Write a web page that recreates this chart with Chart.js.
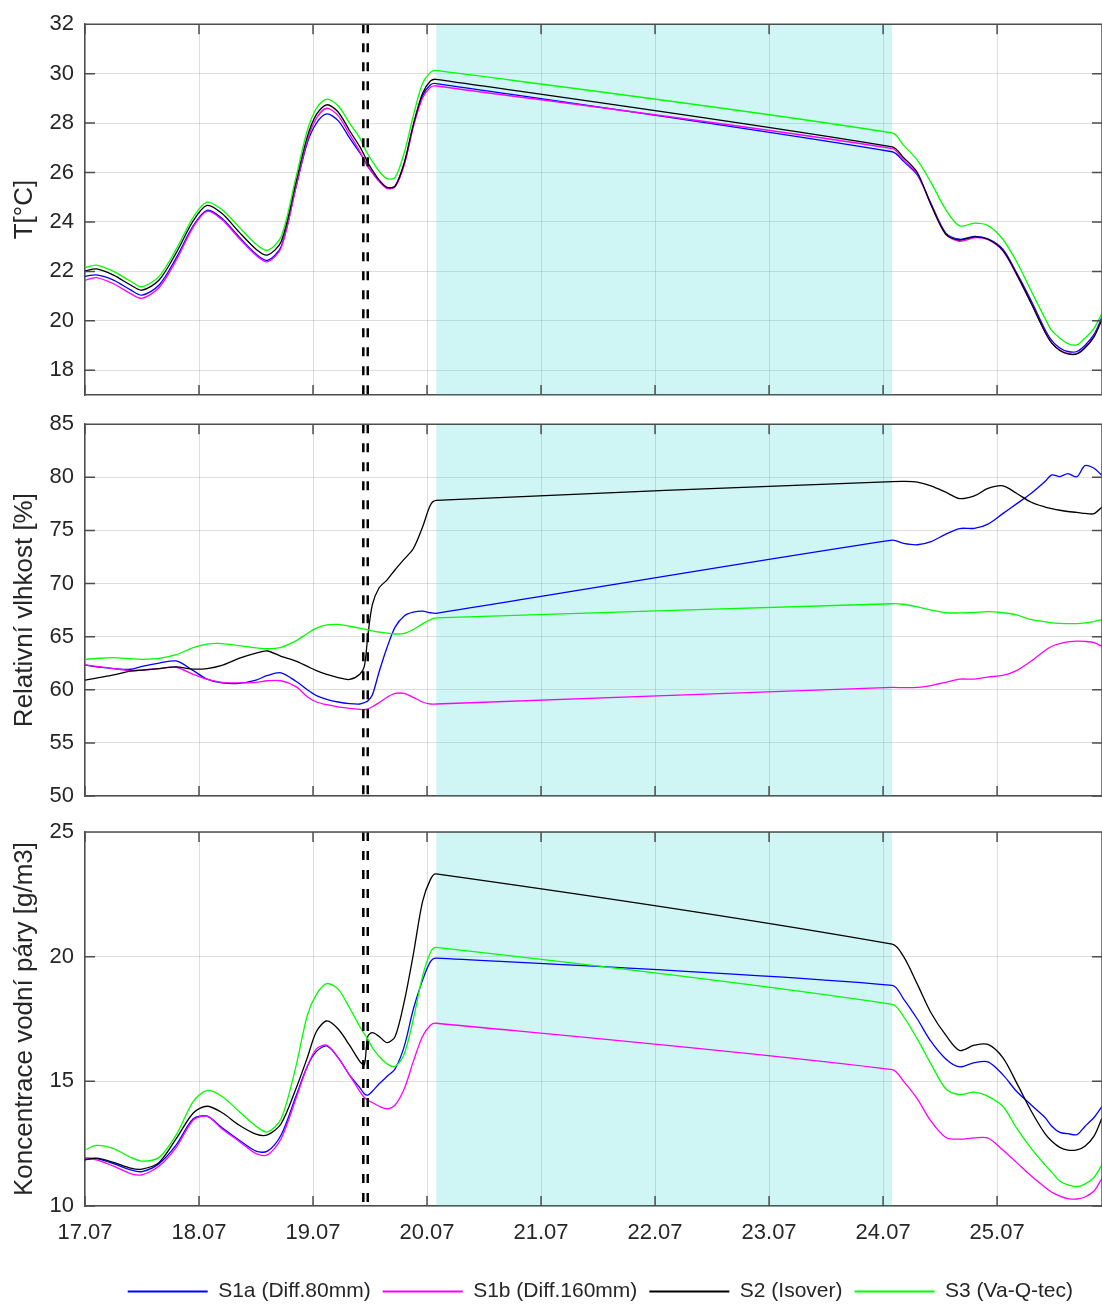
<!DOCTYPE html>
<html>
<head>
<meta charset="utf-8">
<title>S1a / S1b / S2 / S3 - T, RH, vodni para</title>
<script src="https://cdn.jsdelivr.net/npm/chart.js@4.4.0/dist/chart.umd.min.js"></script>
<style>
  html, body { margin: 0; padding: 0; background: #fff; }
  body { width: 1102px; height: 1304px; overflow: hidden; position: relative; }
  .panel { position: absolute; left: 0; width: 1102px; }
</style>
</head>
<body>
<div class="panel" style="top:0;height:420px"><canvas id="tempChart"></canvas></div>
<div class="panel" style="top:400px;height:421px"><canvas id="rhChart"></canvas></div>
<div class="panel" style="top:800px;height:512px"><canvas id="vapourChart"></canvas></div>
<script>
// Days since 17.07 00:00. Logger gap 20.07 - 24.07 is bridged by a straight line.
const DAYS = [0, 0.1, 0.25, 0.4, 0.5, 0.65, 0.8, 0.95, 1.07, 1.2, 1.35, 1.5, 1.6, 1.72, 1.85, 1.95,
  2.03, 2.12, 2.22, 2.32, 2.41, 2.45, 2.48, 2.52, 2.58, 2.65, 2.72, 2.8, 2.88, 2.96, 3.03, 3.08,
  7.08, 7.18, 7.3, 7.42, 7.55, 7.67, 7.8, 7.92, 8.05, 8.17, 8.3, 8.42, 8.48, 8.55, 8.62, 8.7, 8.77, 8.85, 8.92];

const DAY_LABELS = ['17.07', '18.07', '19.07', '20.07', '21.07', '22.07', '23.07', '24.07', '25.07'];
const DAY_MAX = 8.92;

const NAMES = ['S1a (Diff.80mm)', 'S1b (Diff.160mm)', 'S2 (Isover)', 'S3 (Va-Q-tec)'];

// temperature [°C]
const T_S1A = [21.8, 21.86, 21.65, 21.25, 21.04, 21.45, 22.55, 23.85, 24.47, 24.15, 23.4, 22.7, 22.45, 23.0, 25.4, 27.2,
  28.0, 28.37, 28.1, 27.4, 26.8, 26.5, 26.25, 26.0, 25.65, 25.38, 25.45, 26.35, 27.9, 29.1, 29.55, 29.6,
  26.84, 26.45, 25.9, 24.75, 23.55, 23.3, 23.42, 23.32, 22.9, 21.95, 20.8, 19.65, 19.2, 18.9, 18.76, 18.76, 19.0, 19.45, 20.15];
const T_S1B = [21.64, 21.75, 21.5, 21.1, 20.91, 21.35, 22.45, 23.8, 24.43, 24.1, 23.35, 22.65, 22.39, 22.95, 25.4, 27.3,
  28.2, 28.6, 28.3, 27.55, 26.85, 26.5, 26.25, 26.0, 25.65, 25.35, 25.42, 26.3, 27.85, 29.0, 29.45, 29.5,
  26.97, 26.5, 25.95, 24.7, 23.5, 23.22, 23.36, 23.28, 22.83, 21.88, 20.7, 19.55, 19.1, 18.82, 18.68, 18.68, 18.92, 19.38, 20.1];
const T_S2 = [22.02, 22.1, 21.85, 21.45, 21.24, 21.65, 22.75, 24.05, 24.67, 24.35, 23.6, 22.9, 22.66, 23.2, 25.6, 27.45,
  28.35, 28.74, 28.45, 27.7, 27.05, 26.7, 26.4, 26.1, 25.7, 25.4, 25.45, 26.4, 27.95, 29.2, 29.7, 29.77,
  27.04, 26.6, 26.0, 24.7, 23.5, 23.27, 23.4, 23.3, 22.85, 21.9, 20.7, 19.55, 19.1, 18.8, 18.66, 18.66, 18.9, 19.35, 20.05];
const T_S3 = [22.15, 22.25, 22.0, 21.6, 21.38, 21.8, 22.9, 24.2, 24.8, 24.5, 23.8, 23.1, 22.85, 23.4, 25.8, 27.7,
  28.6, 28.97, 28.7, 28.0, 27.4, 27.0, 26.75, 26.45, 26.05, 25.75, 25.8, 26.8, 28.3, 29.6, 30.05, 30.13,
  27.6, 27.1, 26.5, 25.6, 24.5, 23.84, 23.95, 23.85, 23.3, 22.4, 21.2, 20.1, 19.6, 19.3, 19.08, 19.03, 19.3, 19.7, 20.3];

// relative humidity [%]
const RH_S1A = [62.34, 62.15, 62.0, 61.93, 62.2, 62.5, 62.71, 61.8, 61.0, 60.65, 60.6, 60.9, 61.35, 61.6, 60.8, 60.0,
  59.45, 59.1, 58.85, 58.7, 58.66, 58.8, 58.95, 59.5, 61.7, 64.0, 65.9, 66.95, 67.3, 67.4, 67.25, 67.2,
  74.09, 73.78, 73.65, 73.95, 74.65, 75.18, 75.2, 75.6, 76.58, 77.5, 78.5, 79.6, 80.23, 80.07, 80.35, 80.05, 81.1, 80.85, 80.17];
const RH_S1B = [62.34, 62.2, 62.0, 61.8, 61.85, 62.0, 62.12, 61.45, 61.0, 60.7, 60.65, 60.7, 60.85, 60.85, 60.3, 59.35,
  58.85, 58.6, 58.4, 58.25, 58.15, 58.13, 58.2, 58.4, 58.8, 59.3, 59.65, 59.65, 59.28, 58.85, 58.66, 58.66,
  60.22, 60.2, 60.22, 60.4, 60.7, 61.0, 61.0, 61.2, 61.35, 61.8, 62.7, 63.7, 64.1, 64.35, 64.5, 64.58, 64.55, 64.43, 64.1];
const RH_S2 = [60.9, 61.1, 61.4, 61.75, 61.85, 62.0, 62.15, 61.95, 62.0, 62.3, 62.95, 63.45, 63.65, 63.15, 62.7, 62.2,
  61.8, 61.45, 61.15, 60.97, 61.47, 62.2, 65.0, 68.0, 69.6, 70.35, 71.3, 72.3, 73.3, 75.3, 77.4, 77.83,
  79.6, 79.62, 79.55, 79.2, 78.6, 78.0, 78.25, 78.95, 79.2, 78.5, 77.65, 77.2, 77.05, 76.9, 76.78, 76.7, 76.6, 76.58, 77.2];
const RH_S3 = [62.87, 62.95, 63.02, 62.92, 62.87, 62.95, 63.3, 63.96, 64.3, 64.35, 64.15, 63.95, 63.86, 64.0, 64.6, 65.3,
  65.8, 66.1, 66.15, 65.98, 65.8, 65.7, 65.65, 65.55, 65.42, 65.33, 65.25, 65.3, 65.67, 66.2, 66.6, 66.76,
  68.1, 68.05, 67.8, 67.5, 67.25, 67.23, 67.28, 67.35, 67.25, 67.05, 66.6, 66.4, 66.3, 66.25, 66.22, 66.23, 66.3, 66.42, 66.61];

// water vapour concentration [g/m3]
const C_S1A = [11.92, 11.9, 11.7, 11.45, 11.38, 11.7, 12.45, 13.5, 13.6, 13.15, 12.65, 12.2, 12.2, 12.85, 14.4, 15.6,
  16.2, 16.42, 15.95, 15.25, 14.75, 14.5, 14.45, 14.6, 14.9, 15.2, 15.5, 16.4, 17.9, 19.05, 19.8, 19.94,
  18.85, 18.3, 17.5, 16.6, 15.9, 15.58, 15.75, 15.78, 15.27, 14.6, 14.05, 13.55, 13.2, 12.95, 12.9, 12.86, 13.19, 13.55, 14.0];
const C_S1B = [11.89, 11.85, 11.6, 11.3, 11.25, 11.6, 12.35, 13.45, 13.6, 13.1, 12.6, 12.1, 12.05, 12.7, 14.3, 15.6,
  16.3, 16.45, 15.95, 15.25, 14.6, 14.35, 14.25, 14.15, 14.0, 13.9, 14.05, 14.7, 15.8, 16.8, 17.25, 17.33,
  15.47, 15.0, 14.3, 13.4, 12.75, 12.68, 12.73, 12.72, 12.25, 11.75, 11.2, 10.75, 10.55, 10.4, 10.3, 10.28, 10.36, 10.6, 11.11];
const C_S2 = [11.85, 11.92, 11.75, 11.52, 11.48, 11.75, 12.7, 13.73, 14.0, 13.75, 13.25, 12.88, 12.85, 13.3, 14.7, 15.95,
  17.0, 17.42, 17.1, 16.45, 15.8, 15.67, 16.8, 16.95, 16.8, 16.55, 16.8, 18.2, 20.1, 22.2, 23.1, 23.32,
  20.5, 20.0, 18.9, 17.75, 16.85, 16.24, 16.45, 16.48, 15.95, 14.95, 13.8, 12.9, 12.6, 12.35, 12.24, 12.25, 12.4, 12.8, 13.53];
const C_S3 = [12.25, 12.43, 12.3, 11.95, 11.8, 11.95, 12.85, 14.2, 14.63, 14.4, 13.8, 13.2, 12.97, 13.5, 15.6, 17.65,
  18.49, 18.92, 18.7, 17.95, 17.2, 16.9, 16.7, 16.35, 16.0, 15.7, 15.6, 16.1, 17.5, 19.2, 20.17, 20.37,
  18.09, 17.6, 16.7, 15.7, 14.7, 14.47, 14.57, 14.4, 14.0, 13.13, 12.3, 11.65, 11.35, 11.0, 10.85, 10.78, 10.88, 11.15, 11.65];

// data gap (shaded) and the two event markers, in days
const GAP = [3.08, 7.08];
const EVENTS = [2.441, 2.48];

const LINE_COLORS = ['#0000ff', '#ff00ff', '#000000', '#00ff00'];
const FONT = "'Liberation Sans', Arial, Helvetica, sans-serif";
const TEXT = '#262626';
const FRAME = '#4d4d4d';
const GRID = 'rgba(0,0,0,0.13)';

Chart.defaults.font.family = FONT;
Chart.defaults.color = TEXT;

// MATLAB-like box: top/right edges and short inward ticks
const boxPlugin = {
    id: 'box',
    afterDatasetsDraw(chart) {
        const { ctx, chartArea: a, scales: { x, y } } = chart;
        ctx.save();
        ctx.strokeStyle = FRAME;
        ctx.lineWidth = 1.5;
        ctx.beginPath();
        ctx.moveTo(a.left, a.top);
        ctx.lineTo(a.right, a.top);
        ctx.lineTo(a.right, a.bottom);
        x.ticks.forEach(t => {
            const px = x.getPixelForValue(t.value);
            ctx.moveTo(px, a.top); ctx.lineTo(px, a.top + 10);
            ctx.moveTo(px, a.bottom); ctx.lineTo(px, a.bottom - 10);
        });
        y.ticks.forEach(t => {
            const py = y.getPixelForValue(t.value);
            ctx.moveTo(a.left, py); ctx.lineTo(a.left + 10, py);
            ctx.moveTo(a.right, py); ctx.lineTo(a.right - 10, py);
        });
        ctx.stroke();
        ctx.restore();
    }
};

function buildDatasets(series, yMin, yMax) {
    const sets = series.map((ys, i) => ({
        label: NAMES[i],
        data: DAYS.map((d, k) => ({ x: d, y: ys[k] })),
        borderColor: LINE_COLORS[i],
        backgroundColor: LINE_COLORS[i],
        borderWidth: 1.3,
        pointRadius: 0,
        tension: 0.3,
        order: series.length - i
    }));
    // shaded gap
    sets.push({
        label: 'gap',
        data: GAP.map(d => ({ x: d, y: yMax })),
        fill: 'start',
        backgroundColor: 'rgba(0, 204, 204, 0.19)',
        borderWidth: 0,
        pointRadius: 0,
        order: 20
    });
    // event markers
    EVENTS.forEach(d => sets.push({
        label: 'event',
        data: [{ x: d, y: yMax }, { x: d, y: yMin }],
        borderColor: '#000',
        borderWidth: 2.5,
        borderDash: [9, 10],
        pointRadius: 0,
        order: -1
    }));
    return sets;
}

function makePanel(id, opts) {
    const { series, yMin, yMax, yStep, title, padding, bottom } = opts;
    return new Chart(document.getElementById(id), {
        type: 'line',
        data: { datasets: buildDatasets(series, yMin, yMax) },
        options: {
            responsive: true, maintainAspectRatio: false,
            animation: false,
            layout: { padding },
            plugins: {
                tooltip: { enabled: false },
                legend: {
                    display: !!bottom,
                    position: 'bottom',
                    align: 'end',
                    labels: {
                        usePointStyle: true,
                        pointStyle: 'line',
                        pointStyleWidth: 80,
                        padding: 12,
                        color: TEXT,
                        font: { size: 21 },
                        generateLabels: chart => Chart.defaults.plugins.legend.labels.generateLabels(chart)
                            .map(item => Object.assign(item, { lineWidth: 2 })),
                        filter: item => item.datasetIndex < NAMES.length,
                        sort: (a, b) => a.datasetIndex - b.datasetIndex
                    }
                }
            },
            scales: {
                x: {
                    type: 'linear',
                    min: 0, max: DAY_MAX,
                    grid: { color: GRID, drawTicks: false },
                    border: { color: FRAME, width: 1.5 },
                    ticks: {
                        display: !!bottom,
                        stepSize: 1,
                        includeBounds: false,
                        maxRotation: 0,
                        autoSkip: false,
                        padding: 14,
                        color: TEXT,
                        font: { size: 22 },
                        callback: v => DAY_LABELS[v] || ''
                    },
                    afterFit: s => { s.height = bottom ? 63 : 0; }
                },
                y: {
                    min: yMin, max: yMax,
                    grid: { color: GRID, drawTicks: false },
                    border: { color: FRAME, width: 1.5 },
                    ticks: { stepSize: yStep, includeBounds: false, padding: 11, color: TEXT, font: { size: 22 } },
                    title: { display: true, text: title, color: TEXT, font: { size: 26 }, padding: { top: 9, bottom: 0 } },
                    afterFit: s => { s.width = 85; }
                }
            }
        },
        plugins: [boxPlugin, {
            id: 'legendShift',
            afterLayout(chart) {
                if (!bottom) return;
                chart.legend.left -= 17;
                chart.legend.right -= 17;
            }
        }]
    });
}

makePanel('tempChart', {
    series: [T_S1A, T_S1B, T_S2, T_S3],
    yMin: 17, yMax: 32, yStep: 2,
    title: 'T[°C]',
    padding: { top: 21, bottom: 25, left: 0, right: 0 }
});

makePanel('rhChart', {
    series: [RH_S1A, RH_S1B, RH_S2, RH_S3],
    yMin: 50, yMax: 85, yStep: 5,
    title: 'Relativní vlhkost [%]',
    padding: { top: 22, bottom: 25, left: 0, right: 0 }
});

makePanel('vapourChart', {
    series: [C_S1A, C_S1B, C_S2, C_S3],
    yMin: 10, yMax: 25, yStep: 5,
    title: 'Koncentrace vodní páry [g/m3]',
    padding: { top: 32, bottom: 0, left: 0, right: 0 },
    bottom: true
});
</script>
</body>
</html>
